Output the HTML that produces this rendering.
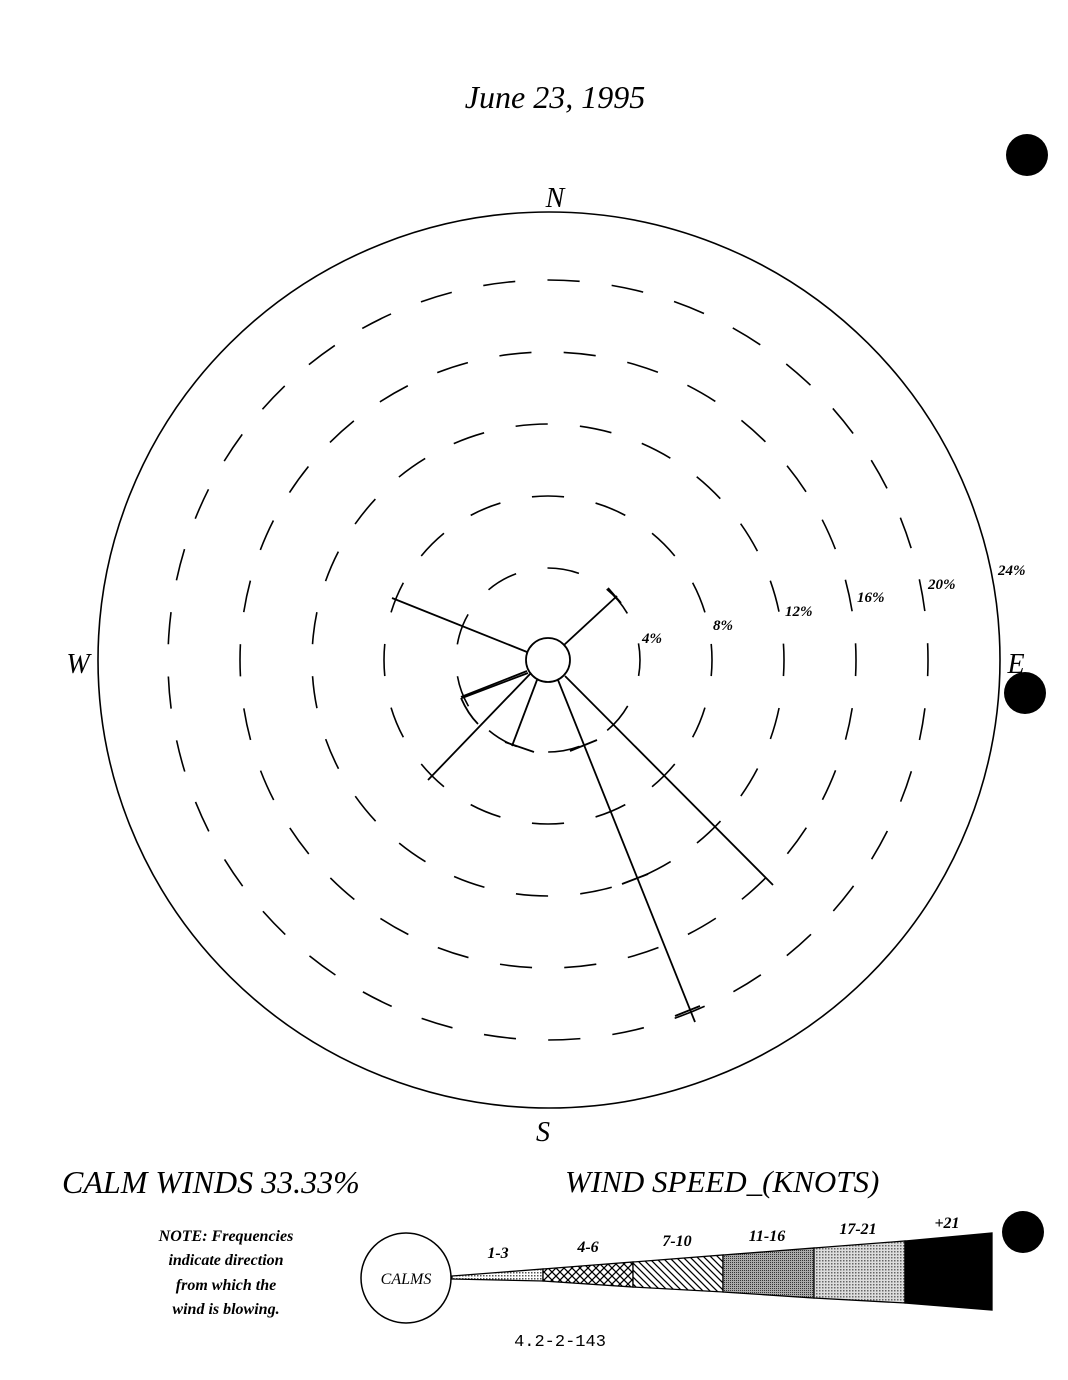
<!DOCTYPE html>
<html><head><meta charset="utf-8"><style>
html,body{margin:0;padding:0;background:#fff;}
svg{display:block;}
text{font-family:"Liberation Serif",serif;font-style:italic;fill:#000;}
</style></head><body>
<svg width="1068" height="1380" viewBox="0 0 1068 1380" xmlns="http://www.w3.org/2000/svg">
<defs>
<pattern id="dots" width="3" height="3" patternUnits="userSpaceOnUse"><rect width="3" height="3" fill="#fff"/><rect width="1.5" height="1.5" fill="#555"/></pattern>
<pattern id="dense" width="2" height="2" patternUnits="userSpaceOnUse"><rect width="2" height="2" fill="#aaa"/><rect width="1" height="1" fill="#333"/></pattern>
<pattern id="light" width="3" height="3" patternUnits="userSpaceOnUse"><rect width="3" height="3" fill="#ddd"/><rect width="1.5" height="1.5" fill="#666"/></pattern>
<pattern id="cross" width="8" height="8" patternUnits="userSpaceOnUse"><rect width="8" height="8" fill="#fff"/><path d="M0 0L8 8M8 0L0 8" stroke="#000" stroke-width="1.3"/></pattern>
<pattern id="diag" width="7" height="7" patternUnits="userSpaceOnUse"><rect width="7" height="7" fill="#fff"/><path d="M-1 -1L8 8M-1 6L1 8M6 -1L8 1" stroke="#000" stroke-width="1.3"/></pattern>
</defs>

<text x="555" y="108" font-size="32" text-anchor="middle">June 23, 1995</text>
<text x="555" y="207" font-size="28" text-anchor="middle">N</text>
<text x="543" y="1141" font-size="28" text-anchor="middle">S</text>
<text x="78" y="673" font-size="28" text-anchor="middle">W</text>
<text x="1016" y="673" font-size="28" text-anchor="middle">E</text>

<circle cx="1027" cy="155" r="21" fill="#000"/>
<circle cx="1025" cy="693" r="21" fill="#000"/>
<circle cx="1023" cy="1232" r="21" fill="#000"/>

<g fill="none" stroke="#000" stroke-width="1.6">
<ellipse cx="549" cy="660" rx="451" ry="448"/>
<circle cx="548" cy="660" r="92" pathLength="18" stroke-dasharray="1 1" stroke-dashoffset="0.5"/>
<circle cx="548" cy="660" r="164" pathLength="32" stroke-dasharray="1 1" stroke-dashoffset="0.5"/>
<circle cx="548" cy="660" r="236" pathLength="46" stroke-dasharray="1 1" stroke-dashoffset="0.5"/>
<circle cx="548" cy="660" r="308" pathLength="60" stroke-dasharray="1 1" stroke-dashoffset="0.5"/>
<circle cx="548" cy="660" r="380" pathLength="74" stroke-dasharray="1 1" stroke-dashoffset="0.5"/>
<circle cx="548" cy="660" r="22" stroke-width="1.8"/>
</g>

<g stroke="#000" stroke-width="1.8" fill="none">
<line x1="527" y1="652" x2="392" y2="598"/>
<line x1="564" y1="645" x2="617" y2="596"/>
<line x1="608" y1="588" x2="621" y2="603"/>
<line x1="531" y1="673" x2="428" y2="780"/>
<line x1="537" y1="680" x2="512" y2="746"/>
<line x1="505" y1="742" x2="534" y2="752"/>
<line x1="558" y1="680" x2="695" y2="1022"/>
<line x1="570" y1="751" x2="597" y2="740"/>
<line x1="622" y1="884" x2="648" y2="874"/>
<line x1="675" y1="1016" x2="700" y2="1006"/>
<line x1="565" y1="676" x2="773" y2="885"/>
<line x1="527" y1="671" x2="461" y2="697"/>
<line x1="528" y1="673" x2="462" y2="698"/>
<path d="M461 698 Q468 714 478 724"/>
</g>

<g font-size="15" font-weight="bold">
<text x="642" y="643">4%</text>
<text x="713" y="630">8%</text>
<text x="785" y="616">12%</text>
<text x="857" y="602">16%</text>
<text x="928" y="589">20%</text>
<text x="998" y="575">24%</text>
</g>

<text x="62" y="1193" font-size="32">CALM WINDS 33.33%</text>
<text x="565" y="1192" font-size="31">WIND SPEED_(KNOTS)</text>

<g font-size="16" font-weight="bold" text-anchor="middle">
<text x="226" y="1241">NOTE: Frequencies</text>
<text x="226" y="1265">indicate direction</text>
<text x="226" y="1290">from which the</text>
<text x="226" y="1314">wind is blowing.</text>
</g>

<circle cx="406" cy="1278" r="45" fill="none" stroke="#000" stroke-width="1.5"/>
<text x="406" y="1284" font-size="16" text-anchor="middle">CALMS</text>

<g stroke="#000" stroke-width="1.3">
<polygon points="452,1276 543,1269 543,1281 452,1279" fill="url(#dots)"/>
<polygon points="543,1269 633,1262 633,1287 543,1281" fill="url(#cross)"/>
<polygon points="633,1262 723,1255 723,1292 633,1287" fill="url(#diag)"/>
<polygon points="723,1255 814,1248 814,1298 723,1292" fill="url(#dense)"/>
<polygon points="814,1248 905,1241 905,1303 814,1298" fill="url(#light)"/>
<polygon points="905,1241 992,1233 992,1310 905,1303" fill="#000"/>
</g>
<g font-size="16" font-weight="bold" text-anchor="middle">
<text x="498" y="1258">1-3</text>
<text x="588" y="1252">4-6</text>
<text x="677" y="1246">7-10</text>
<text x="767" y="1241">11-16</text>
<text x="858" y="1234">17-21</text>
<text x="947" y="1228">+21</text>
</g>

<text x="560" y="1346" font-size="17" text-anchor="middle" style="font-family:'Liberation Mono',monospace;font-style:normal">4.2-2-143</text>
</svg>
</body></html>
